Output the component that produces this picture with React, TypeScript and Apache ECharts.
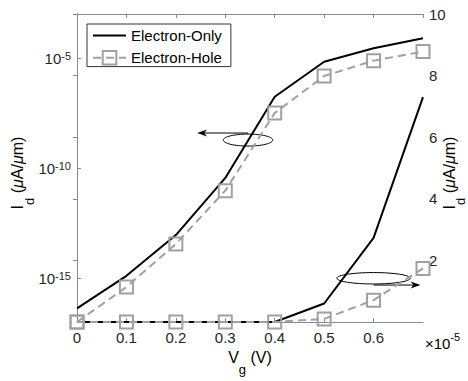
import React, { useEffect, useRef } from 'react';
import * as echarts from 'echarts';

// Gate voltage (V)
const vg = [0, 0.1, 0.2, 0.3, 0.4, 0.5, 0.6, 0.7];
// log10 of drain current (left, log scale)
const eoLogExp = [-16.38, -14.9, -13.05, -10.45, -6.76, -5.17, -4.56, -4.1];
const ehLogExp = [-17, -15.41, -13.45, -11.03, -7.5, -5.82, -5.12, -4.71];
// drain current in units of 1e-5 (right, linear scale)
const eoLin = [0, 0, 0, 0, 0, 0.6, 2.73, 7.3];
const ehLin = [0, 0, 0, 0, 0, 0.1, 0.71, 1.74];
// tick values
const leftTickExps = [-15, -10, -5];
const seriesNames = ['Electron-Only', 'Electron-Hole'];

// annotation anchors (data space)
const leftEllipseCenter = [0.346, -8.73];
const leftArrowFrom = [0.346, -8.41];
const leftArrowTo = [0.243, -8.41];
const rightEllipseCenter = [0.6, 1.42];
const rightArrowFrom = [0.6, 1.2];
const rightArrowTo = [0.695, 1.2];

const FONT = '"Liberation Sans", Arial, Helvetica, sans-serif';
const TXT = '#262626';
const AXC = '#8a8a8a';
const GRAY = '#a0a0a0';

export default function App() {
  const ref = useRef<HTMLDivElement>(null);
  useEffect(() => {
    const chart = echarts.init(ref.current!, null, { renderer: 'svg' });
    const axisCommon = {
      axisLine: { show: true, lineStyle: { color: AXC, width: 1 } },
      axisTick: { show: true, inside: true, length: 4, lineStyle: { color: AXC } },
      splitLine: { show: false },
    };
    const option: any = {
      animation: false,
      textStyle: { fontFamily: FONT },
      grid: { left: 77, right: 45, top: 14, bottom: 59 },
      legend: {
        data: [
          { name: seriesNames[0], itemStyle: { opacity: 0 } },
          { name: seriesNames[1] },
        ],
        orient: 'vertical',
        left: 87,
        top: 24,
        itemWidth: 33,
        itemHeight: 17,
        itemGap: 7,
        padding: [4, 9, 1, 5],
        borderColor: '#333',
        borderWidth: 1,
        borderRadius: 0,
        backgroundColor: '#fff',
        selectedMode: false,
        textStyle: { fontSize: 15, color: '#000', fontFamily: FONT },
      },
      xAxis: [
        {
          type: 'value', min: 0, max: 0.7, interval: 0.1, position: 'bottom',
          ...axisCommon,
          axisLabel: { fontSize: 15, color: TXT, margin: 8, showMaxLabel: false, fontFamily: FONT },
        },
        {
          type: 'value', min: 0, max: 0.7, interval: 0.1, position: 'top',
          ...axisCommon,
          axisLabel: { show: false },
        },
      ],
      yAxis: [
        {
          type: 'value', min: -17, max: -3, position: 'left',
          ...axisCommon,
          axisTick: { show: true, inside: true, length: 4, lineStyle: { color: AXC }, customValues: leftTickExps },
          axisLabel: {
            customValues: leftTickExps,
            margin: 6,
            formatter: (v: number) => `{b|10}{s|${Math.round(v)}}`,
            rich: {
              b: { fontSize: 15, color: TXT, fontFamily: FONT, lineHeight: 16, verticalAlign: 'bottom' },
              s: { fontSize: 11, color: TXT, fontFamily: FONT, lineHeight: 12, verticalAlign: 'top', padding: [0, 0, 8, 0] },
            },
          },
        },
        {
          type: 'value', min: 0, max: 10, interval: 2, position: 'right',
          ...axisCommon,
          axisLabel: { fontSize: 15, color: TXT, margin: 6, showMinLabel: false, fontFamily: FONT },
        },
      ],
      series: [
        {
          name: seriesNames[0], type: 'line', xAxisIndex: 0, yAxisIndex: 0,
          data: vg.map((x, i) => [x, eoLogExp[i]]),
          symbol: 'none', lineStyle: { color: '#000', width: 2 }, itemStyle: { color: '#000' },
        },
        {
          name: seriesNames[0], type: 'line', xAxisIndex: 0, yAxisIndex: 1,
          data: vg.map((x, i) => [x, eoLin[i]]),
          symbol: 'none', lineStyle: { color: '#000', width: 2 }, itemStyle: { color: '#000' },
        },
        {
          name: seriesNames[1], type: 'line', xAxisIndex: 0, yAxisIndex: 0,
          data: vg.map((x, i) => [x, ehLogExp[i]]),
          symbol: 'rect', symbolSize: 13, showAllSymbol: true,
          lineStyle: { color: GRAY, width: 2, type: [8, 5] },
          itemStyle: { color: 'rgba(255,255,255,0)', borderColor: GRAY, borderWidth: 2 },
        },
        {
          name: seriesNames[1], type: 'line', xAxisIndex: 0, yAxisIndex: 1,
          data: vg.map((x, i) => [x, ehLin[i]]),
          symbol: 'rect', symbolSize: 13, showAllSymbol: true,
          lineStyle: { color: GRAY, width: 2, type: [8, 5] },
          itemStyle: { color: 'rgba(255,255,255,0)', borderColor: GRAY, borderWidth: 2 },
        },
      ],
    };
    chart.setOption(option);

    const L = (p: number[]) => chart.convertToPixel({ xAxisIndex: 0, yAxisIndex: 0 } as any, p) as number[];
    const R = (p: number[]) => chart.convertToPixel({ xAxisIndex: 0, yAxisIndex: 1 } as any, p) as number[];

    const arrow = (from: number[], to: number[]) => {
      const dx = to[0] - from[0];
      const dir = dx >= 0 ? 1 : -1;
      const len = 10, hw = 3.5;
      return [
        { type: 'line', shape: { x1: from[0], y1: from[1], x2: to[0] - dir * 6, y2: to[1] }, style: { stroke: '#000', lineWidth: 1 }, silent: true },
        {
          type: 'polygon',
          shape: { points: [[to[0], to[1]], [to[0] - dir * len, to[1] - hw], [to[0] - dir * 7, to[1]], [to[0] - dir * len, to[1] + hw]] },
          style: { fill: '#000' }, silent: true,
        },
      ];
    };

    const le = L(leftEllipseCenter);
    const re = R(rightEllipseCenter);
    const titleRich = {
      n: { fontSize: 16, color: TXT, fontFamily: FONT, lineHeight: 20 },
      m: { fontSize: 16, color: TXT, fontFamily: FONT, lineHeight: 20, fontStyle: 'italic' },
      s: { fontSize: 13, color: TXT, fontFamily: FONT, lineHeight: 14, padding: [23, 0, 0, 0] },
    };
    const ytitle = '{n|I}{s|d}{n| (}{m|μ}{n|A/}{m|μ}{n|m)}';
    chart.setOption({
      graphic: [
        { type: 'ellipse', shape: { cx: le[0], cy: le[1], rx: 24.7, ry: 6 }, style: { fill: 'none', stroke: '#000', lineWidth: 1 }, silent: true },
        ...arrow(L(leftArrowFrom), L(leftArrowTo)),
        { type: 'ellipse', shape: { cx: re[0], cy: re[1], rx: 36.7, ry: 5.7 }, style: { fill: 'none', stroke: '#000', lineWidth: 1 }, silent: true },
        ...arrow(R(rightArrowFrom), R(rightArrowTo)),
        {
          type: 'text', x: 17.5, y: 173, rotation: Math.PI / 2,
          style: { text: ytitle, rich: titleRich, align: 'center', verticalAlign: 'middle' },
        },
        {
          type: 'text', x: 449, y: 173, rotation: Math.PI / 2,
          style: { text: ytitle, rich: titleRich, align: 'center', verticalAlign: 'middle' },
        },
        {
          type: 'text', x: 250, y: 357.5,
          style: { text: '{n|V}{s|g}{n| (V)}', rich: titleRich, align: 'center', verticalAlign: 'middle' },
        },
        {
          type: 'text', x: 425, y: 343,
          style: {
            text: '{n|×10}{p|-5}', align: 'left', verticalAlign: 'middle',
            rich: {
              n: { fontSize: 15, color: TXT, fontFamily: FONT, lineHeight: 18 },
              p: { fontSize: 11, color: TXT, fontFamily: FONT, lineHeight: 12, padding: [0, 0, 13, 0] },
            },
          },
        },
      ],
    });
    return () => chart.dispose();
  }, []);
  return <div ref={ref} style={{ position: 'absolute', left: 0, top: 0, width: 468, height: 381 }} />;
}
